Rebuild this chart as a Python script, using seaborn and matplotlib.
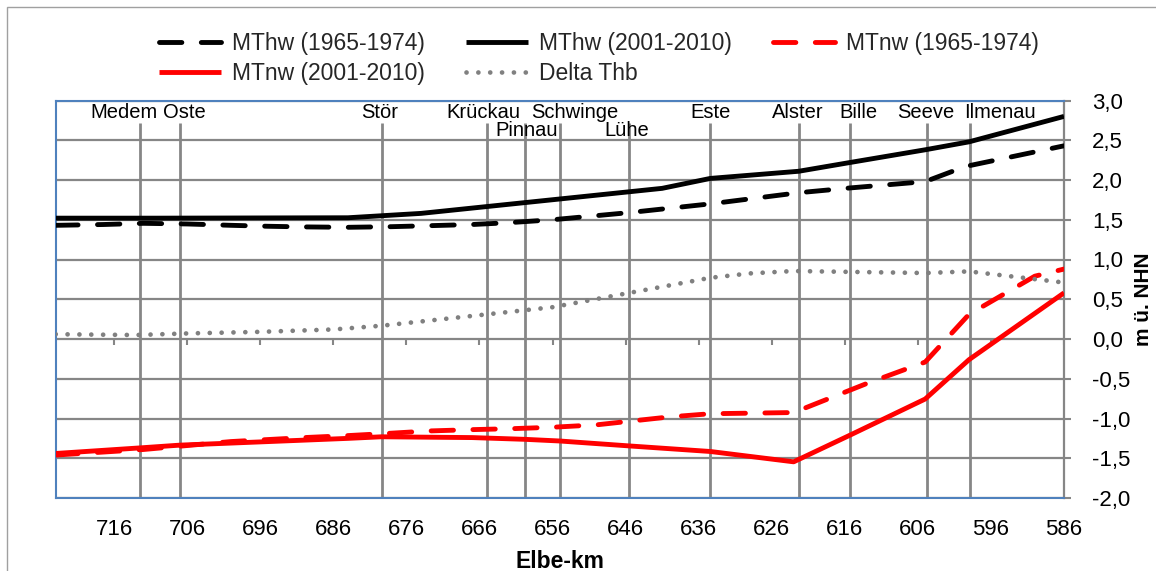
import matplotlib
matplotlib.use("Agg")
import matplotlib.pyplot as plt
from matplotlib.patches import Rectangle
import seaborn as sns

# Mean high / low water along the tidal Elbe (m above NHN) by Elbe-km
km_mthw_1965 = [724, 717.5, 712, 706, 700, 695, 690, 684, 678, 673, 667, 662, 656,
                645.5, 634.4, 622.3, 615.3, 605, 599.5, 586]
mthw_1965 = [1.43, 1.44, 1.455, 1.447, 1.43, 1.418, 1.41, 1.405, 1.413, 1.425, 1.44,
             1.463, 1.50, 1.59, 1.70, 1.84, 1.90, 1.98, 2.17, 2.43]

km_mthw_2001 = [724, 710, 684, 674, 641, 634.4, 622.3, 615.3, 605, 599, 586]
mthw_2001 = [1.52, 1.52, 1.525, 1.58, 1.895, 2.02, 2.11, 2.22, 2.38, 2.48, 2.80]

km_mtnw_1965 = [724, 712, 700, 690, 684, 679, 673, 667, 661.6, 656, 650, 645.5, 640,
                634.4, 623, 613, 605, 599, 590, 586]
mtnw_1965 = [-1.46, -1.39, -1.29, -1.24, -1.215, -1.19, -1.157, -1.14, -1.128, -1.11,
             -1.08, -1.035, -0.98, -0.94, -0.925, -0.56, -0.29, 0.31, 0.79, 0.88]

km_mtnw_2001 = [724, 712.5, 707, 684, 679.4, 667, 659.8, 655, 645.5, 634.4, 623,
                615.3, 605, 599, 586]
mtnw_2001 = [-1.44, -1.37, -1.335, -1.25, -1.23, -1.24, -1.262, -1.283, -1.345, -1.415,
             -1.545, -1.21, -0.755, -0.26, 0.58]

km_delta = [724, 713, 706, 696, 686, 679.4, 666, 656, 634.4, 629, 623, 605, 599, 586]
delta_thb = [0.06, 0.05, 0.07, 0.09, 0.12, 0.167, 0.30, 0.40, 0.77, 0.825, 0.855,
             0.83, 0.85, 0.71]

# Tributaries and where they enter the Elbe
rivers = ["Medem", "Oste", "Stör", "Krückau", "Pinnau", "Schwinge", "Lühe", "Este",
          "Alster", "Bille", "Seeve", "Ilmenau"]
river_km = [712.5, 707.0, 679.4, 665.0, 659.8, 655.0, 645.5, 634.4, 622.3, 615.3,
            604.8, 598.8]

x_ticks = [716, 706, 696, 686, 676, 666, 656, 646, 636, 626, 616, 606, 596, 586]
y_ticks = [-2.0, -1.5, -1.0, -0.5, 0.0, 0.5, 1.0, 1.5, 2.0, 2.5, 3.0]
y_tick_labels = ["-2,0", "-1,5", "-1,0", "-0,5", "0,0", "0,5", "1,0", "1,5", "2,0",
                 "2,5", "3,0"]

# label placement for the tributary names (x in km, text row)
label_km = [714.6, 706.4, 679.7, 665.4, 659.6, 652.9, 645.9, 634.4, 622.5, 614.2,
            604.9, 594.7]
label_row = [0, 0, 0, 0, 1, 0, 1, 0, 0, 0, 0, 0]
row_baseline = {0: 2.776, 1: 2.557}

sns.set_theme(style="white")
plt.rcParams["font.family"] = ["Liberation Sans", "DejaVu Sans"]
FS_LABEL = 14.5
FS_TICK = 16
FS_LEGEND = 16.5
GRID = "#868686"
BLUE = "#4F81BD"

fig = plt.figure(figsize=(11.56, 5.71), dpi=100)
fig.patch.set_facecolor("white")
ax = fig.add_axes([55.7 / 1156, 73 / 571, (1064 - 55.7) / 1156, 397.5 / 571])

# chart border
fig.patches.append(Rectangle((7 / 1156, -1.0), 2.0, 1.0 + (571 - 7) / 571,
                             transform=fig.transFigure, fill=False,
                             edgecolor="#a0a0a0", lw=1.0, zorder=0))

ax.set_xlim(724, 586)
ax.set_ylim(-2.0, 3.0)
ax.set_yticks(y_ticks)
ax.set_yticklabels(y_tick_labels)
ax.set_xticks(x_ticks)
ax.set_xticklabels([str(t) for t in x_ticks])
ax.yaxis.grid(True, color=GRID, lw=1.6, zorder=0)
ax.xaxis.grid(False)
ax.set_axisbelow(True)

ax.yaxis.tick_right()
ax.yaxis.set_label_position("right")
ax.tick_params(axis="y", which="both", right=True, left=False, length=5, width=1.5,
               color=GRID, direction="out", pad=15, labelsize=FS_TICK,
               labelcolor="black")
ax.tick_params(axis="x", which="both", bottom=True, length=0, pad=15,
               labelsize=FS_TICK, labelcolor="black")

for side in ("left", "top", "bottom"):
    ax.spines[side].set_color(BLUE)
    ax.spines[side].set_linewidth(1.5)
ax.spines["right"].set_color(GRID)
ax.spines["right"].set_linewidth(1.6)

# small km ticks on the zero line
ax.vlines(x_ticks, -0.075, 0.0, color=GRID, lw=1.5, zorder=1)

# tributary markers
ax.vlines(river_km, -2.0, 2.72, color=GRID, lw=2.0, zorder=1)
for name, xk, row in zip(rivers, label_km, label_row):
    ax.text(xk, row_baseline[row], name, ha="center", va="baseline",
            fontsize=FS_LABEL, color="black", zorder=6)

series = [
    ("MThw (1965-1974)", km_mthw_1965, mthw_1965, "black", "dash"),
    ("MThw (2001-2010)", km_mthw_2001, mthw_2001, "black", "solid"),
    ("MTnw (1965-1974)", km_mtnw_1965, mtnw_1965, "#FF0000", "dash"),
    ("MTnw (2001-2010)", km_mtnw_2001, mtnw_2001, "#FF0000", "solid"),
    ("Delta Thb", km_delta, delta_thb, "#808080", "dot"),
]
for label, xs, ys, color, style in series:
    sns.lineplot(x=xs, y=ys, ax=ax, color=color, lw=3.5, label=label, sort=False,
                 estimator=None, zorder=4)
    line = ax.lines[-1]
    if style == "dash":
        line.set_dashes([4.6, 4.0])
        line.set_dash_capstyle("round")
    elif style == "dot":
        line.set_linewidth(3.4)
        line.set_dashes([0.01, 2.5])
        line.set_dash_capstyle("round")
    else:
        line.set_solid_capstyle("butt")
        line.set_solid_joinstyle("round")

handles, labels = ax.get_legend_handles_labels()
ax.get_legend().remove()
order = [0, 3, 1, 4, 2]
fig.legend([handles[i] for i in order], [labels[i] for i in order], ncol=3,
           loc="center", bbox_to_anchor=(599 / 1156, 1 - 58.5 / 571), frameon=False,
           fontsize=FS_LEGEND, handlelength=2.7, handletextpad=0.48,
           columnspacing=1.8, labelspacing=0.32)

ax.set_xlabel("Elbe-km", fontsize=FS_LEGEND, fontweight="bold", labelpad=7,
              color="black")
ax.set_ylabel("m ü. NHN", fontsize=15, fontweight="bold", labelpad=3,
              color="black")

fig.savefig("out.png", dpi=100, facecolor="white")
